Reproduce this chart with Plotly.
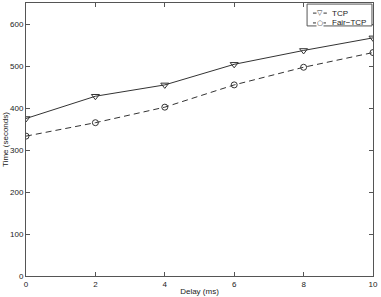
import plotly.graph_objects as go

delay = [0, 2, 4, 6, 8, 10]
tcp = [375, 428, 455, 504, 537, 567]
fair_tcp = [333, 365, 402, 455, 497, 532]
x_ticks = [0, 2, 4, 6, 8, 10]
y_ticks = [0, 100, 200, 300, 400, 500, 600]
series_names = ["TCP", "Fair\u2212TCP"]

FONT = "Liberation Sans, Arial"
INK = "#333"
fig = go.Figure()
fig.add_trace(go.Scatter(x=delay, y=tcp, name=series_names[0], mode="lines+markers",
                         line=dict(color=INK, width=1),
                         marker=dict(symbol="triangle-down-open", size=7, color=INK, line=dict(width=1))))
fig.add_trace(go.Scatter(x=delay, y=fair_tcp, name=series_names[1], mode="lines+markers",
                         line=dict(color=INK, width=1, dash="6px,4px"),
                         marker=dict(symbol="circle-open", size=6, color=INK, line=dict(width=1))))

axis_common = dict(showgrid=False, ticks="inside", ticklen=4,
                   tickcolor="#555", linecolor="#555", linewidth=1, mirror="ticks",
                   showline=True, automargin=False,
                   tickfont=dict(family=FONT, size=8, color="#222"))
fig.update_xaxes(range=[0, 10], tickvals=x_ticks, zeroline=False,
                 title=dict(text="Delay (ms)", font=dict(family=FONT, size=8, color="#222"), standoff=0),
                 **axis_common)
fig.update_yaxes(range=[0, 650], tickvals=y_ticks, zeroline=True, zerolinewidth=2, zerolinecolor="#777",
                 title=dict(text="Time (seconds)", font=dict(family=FONT, size=8, color="#222"), standoff=0),
                 **axis_common)

# compact legend box (MATLAB style)
lx0, lx1, ly0, ly1 = 0.810, 0.997, 0.916, 0.996
item_y = [0.963, 0.927]
fig.add_shape(type="rect", xref="paper", yref="paper", x0=lx0, x1=lx1, y0=ly0, y1=ly1,
              line=dict(color="#555", width=1), fillcolor="white", layer="above")
dashes = ["solid", "3px,2px"]
symbols = ["\u25BD", "\u25CB"]
for name, yy, d, s in zip(series_names, item_y, dashes, symbols):
    fig.add_shape(type="line", xref="paper", yref="paper", x0=0.827, x1=0.867, y0=yy, y1=yy,
                  line=dict(color=INK, width=1, dash=d), layer="above")
    fig.add_annotation(x=0.847, y=yy, xref="paper", yref="paper", text=s, showarrow=False,
                       font=dict(family="DejaVu Sans", size=7, color=INK), xanchor="center", yanchor="middle",
                       bgcolor="white", borderpad=0)
    fig.add_annotation(x=0.880, y=yy, xref="paper", yref="paper", text=name, showarrow=False,
                       font=dict(family=FONT, size=8, color="#222"), xanchor="left", yanchor="middle",
                       borderpad=0)

fig.update_layout(width=381, height=297, margin=dict(l=26, r=8, t=3, b=21, autoexpand=False),
                  plot_bgcolor="white", paper_bgcolor="white", showlegend=False)
fig.write_html("out.html", config={"displayModeBar": False},
               post_script="document.body.style.margin='0';document.body.style.overflow='hidden';")
